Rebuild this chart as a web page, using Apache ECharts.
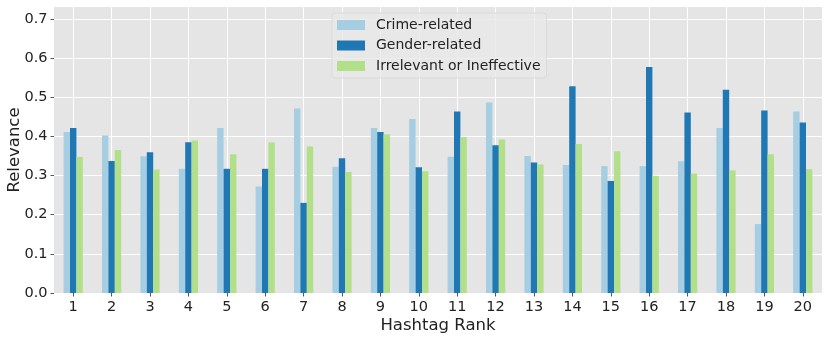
<!DOCTYPE html>
<html>
<head>
<meta charset="utf-8">
<script src="https://cdn.jsdelivr.net/npm/echarts@6/dist/echarts.min.js"></script>
<style>
  html, body { margin: 0; padding: 0; background: #fff; }
  #chart { width: 831px; height: 339px; }
</style>
</head>
<body>
<div id="chart"></div>
<script>
"use strict";
// hashtag ranks
var ranks = ['1','2','3','4','5','6','7','8','9','10','11','12','13','14','15','16','17','18','19','20'];
// relevance per group
var crimeRelated = [0.411,0.402,0.349,0.317,0.421,0.272,0.471,0.322,0.421,0.444,0.348,0.486,0.350,0.327,0.324,0.324,0.336,0.421,0.176,0.463];
var genderRelated = [0.421,0.337,0.359,0.385,0.317,0.317,0.230,0.344,0.411,0.321,0.463,0.377,0.333,0.528,0.286,0.577,0.461,0.519,0.466,0.435];
var irrelevant = [0.347,0.365,0.315,0.389,0.354,0.384,0.374,0.309,0.405,0.311,0.398,0.392,0.328,0.380,0.362,0.299,0.305,0.313,0.354,0.316];
var yTicks = [0, 0.1, 0.2, 0.3, 0.4, 0.5, 0.6, 0.7];
var seriesNames = ['Crime-related', 'Gender-related', 'Irrelevant or Ineffective'];
var colors = ['#a6cee3', '#1f78b4', '#b2df8a'];

var font = 'DejaVu Sans';

function makeBar(name, data, color){
    return {
        name: name,
        type: 'bar',
        data: data,
        barWidth: 6.4,
        barGap: '0%',
        itemStyle: { color: color },
        emphasis: { disabled: true }
    };
}

var option = {
    animation: false,
    color: colors,
    textStyle: { fontFamily: font },
    grid: {
        left: 54, right: 9, top: 7, bottom: 46,
        outerBoundsMode: 'none',
        containLabel: false,
        show: true, backgroundColor: '#e5e5e5', borderWidth: 0
    },
    legend: {
        orient: 'vertical',
        left: 332,
        top: 13,
        padding: [5, 6, 5, 5],
        itemGap: 6.5,
        itemWidth: 28,
        itemHeight: 10,
        backgroundColor: 'rgba(232,232,232,0.8)',
        borderColor: '#dadada',
        borderWidth: 1,
        borderRadius: 3,
        icon: 'rect',
        textStyle: { fontFamily: font, fontSize: 14, color: '#222', padding: [0, 0, 0, 6] },
        data: seriesNames
    },
    xAxis: {
        type: 'category',
        data: ranks,
        name: 'Hashtag Rank',
        nameLocation: 'middle',
        nameGap: 24,
        nameMoveOverlap: false,
        nameTextStyle: { fontFamily: font, fontSize: 16.5, color: '#222' },
        axisLine: { show: false },
        axisTick: { show: true, alignWithLabel: true, length: 3.5, lineStyle: { color: '#555' } },
        axisLabel: { fontFamily: font, fontSize: 14.5, color: '#222', margin: 7 },
        splitLine: { show: true, alignWithLabel: true, lineStyle: { color: '#ffffff', width: 1 } }
    },
    yAxis: {
        type: 'value',
        min: 0,
        max: 0.73,
        interval: 0.1,
        name: 'Relevance',
        nameLocation: 'middle',
        nameGap: 31,
        nameMoveOverlap: false,
        nameTextStyle: { fontFamily: font, fontSize: 16.5, color: '#222' },
        axisLine: { show: false },
        axisTick: { show: true, length: 3.5, customValues: yTicks, lineStyle: { color: '#555' } },
        axisLabel: {
            fontFamily: font, fontSize: 14.5, color: '#222', margin: 6.5,
            customValues: yTicks,
            formatter: function(v){ return v.toFixed(1); }
        },
        splitLine: { show: true, lineStyle: { color: '#ffffff', width: 1 } }
    },
    series: [
        makeBar(seriesNames[0], crimeRelated, colors[0]),
        makeBar(seriesNames[1], genderRelated, colors[1]),
        makeBar(seriesNames[2], irrelevant, colors[2])
    ]
};

var myChart = echarts.init(document.getElementById('chart'));
myChart.setOption(option, true);
</script>
</body>
</html>
